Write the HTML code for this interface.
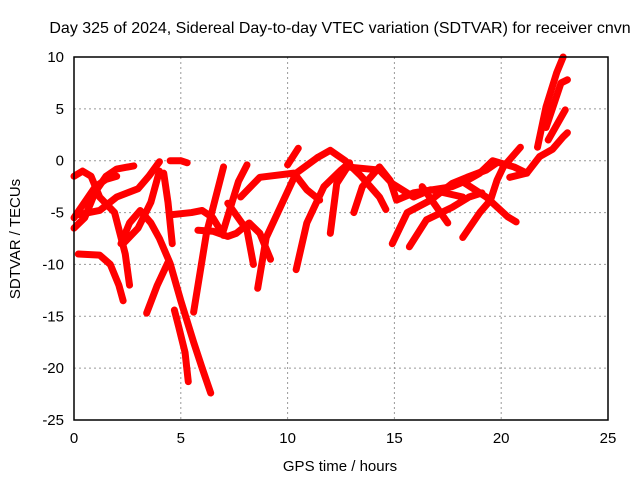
<!DOCTYPE html>
<html><head><meta charset="utf-8"><style>
body{margin:0;background:#fff}
svg{display:block;font-family:"Liberation Sans",sans-serif}
</style></head><body>
<svg id="chart" width="640" height="480" viewBox="0 0 640 480">
<rect width="640" height="480" fill="#fff"/>
<text x="340" y="33" font-size="16" text-anchor="middle">Day 325 of 2024, Sidereal Day-to-day VTEC variation (SDTVAR) for receiver cnvn</text>
<g id="grid"></g>
<g id="series"></g>
<rect x="74" y="57" width="534" height="363" fill="none" stroke="#000" stroke-width="1.5"/>
<g id="ticks"></g>
<text x="340" y="471" font-size="15" text-anchor="middle">GPS time / hours</text>
<text x="20" y="239" font-size="15" text-anchor="middle" transform="rotate(-90 20 239)">SDTVAR / TECUs</text>
</svg>
<script>
const xTicks=[0,5,10,15,20,25];
const yTicks=[10,5,0,-5,-10,-15,-20,-25];
const tracks=[
[[0,-1.5],[0.4,-1.0],[0.8,-1.5],[1.2,-3.5],[1.9,-5.0],[2.4,-9],[2.6,-12]],
[[0,-6.5],[0.5,-5.5],[1.0,-3],[1.5,-1.5],[2.0,-0.8],[2.8,-0.5]],
[[0,-5.5],[0.5,-4],[1,-2.5],[1.5,-1.8],[2,-1.5]],
[[0.2,-9],[1.2,-9.1],[1.7,-10],[2.1,-12],[2.3,-13.5]],
[[0.2,-5.2],[1.2,-4.8],[2,-3.5],[3,-2.7],[3.5,-1.5],[4.0,-0.1]],
[[2.2,-8],[2.6,-6],[3.1,-4.8],[3.6,-6],[4.0,-7.5],[4.5,-9.9],[5.0,-13.5],[5.6,-17.5],[6.0,-20],[6.4,-22.4]],
[[3.4,-14.7],[3.9,-12],[4.4,-9.8]],
[[2.3,-8],[3.0,-6.5],[3.6,-4],[4.0,-1]],
[[4.7,-14.4],[4.9,-16],[5.2,-18.5],[5.35,-21.3]],
[[4.6,-8],[4.4,-4],[4.2,-1.2]],
[[4.6,-5.2],[5.5,-5],[6.0,-4.8],[6.5,-5.5],[7,-7.2]],
[[4.5,0],[5,0],[5.3,-0.2]],
[[5.6,-14.6],[6.2,-7],[7,-0.6]],
[[5.8,-6.7],[6.5,-6.8],[7.2,-7.3],[7.6,-7],[8.2,-6],[8.7,-7],[9.2,-9.5]],
[[7.0,-6.7],[7.4,-4],[7.7,-2],[8.1,-0.4]],
[[8.6,-12.3],[9.0,-7.4],[10.4,-1.2],[11.4,0.3]],
[[7.8,-3.5],[8.7,-1.6],[10.3,-1.2],[10.9,-2.8],[11.5,-3.8]],
[[7.2,-4.1],[8.1,-6.7],[8.4,-10]],
[[10.0,-0.4],[10.5,1.2]],
[[10.4,-10.5],[10.9,-6],[11.7,-2.5],[12.5,-0.9],[12.9,-0.2]],
[[11.4,0.3],[12,1],[12.7,0],[13.4,-1.4],[14.3,-3.5],[14.6,-4.7]],
[[13.1,-5],[13.5,-2.5],[14.3,-0.6],[14.8,-1.9],[15.1,-3.8],[15.9,-3.1],[16.8,-2.8],[17.7,-2.5],[18.4,-1.9],[19.0,-1.2],[19.6,0],[20.6,-0.6],[21.2,-1.2]],
[[12.0,-7],[12.3,-2.2],[12.8,-0.6],[14.3,-0.9],[14.9,-2.2],[15.9,-3.5],[16.7,-2.8],[18.2,-3.5]],
[[14.9,-8],[15.6,-5],[16.7,-3.8],[17.7,-2.2],[18.4,-1.6],[19.3,-0.9],[19.8,-0.2]],
[[15.7,-8.3],[16.5,-5.7],[17.7,-4.5],[18.5,-3.5],[19.1,-3.1]],
[[16.3,-2.5],[17.5,-6]],
[[18.2,-7.4],[19.0,-5],[19.5,-3.8],[19.8,-1.9],[20.1,-0.6],[20.9,1.3]],
[[18.1,-1.9],[19.3,-3.5],[20.3,-5.4],[20.7,-5.9]],
[[20.4,-1.6],[21.2,-1.2],[21.8,0.4],[22.4,1.1],[22.9,2.3],[23.1,2.7]],
[[21.7,1.3],[22.1,5.2],[22.6,8.5],[22.9,10]],
[[22.1,3.2],[22.8,7.5],[23.1,7.8]],
[[22.2,2],[23.0,4.9]]
];
const X0=74,X1=608,Y0=420,Y1=57;
const sx=h=>X0+(h-0)/(25-0)*(X1-X0);
const sy=v=>Y0-(v+25)/(10+25)*(Y0-Y1);
const NS="http://www.w3.org/2000/svg";
const grid=document.getElementById('grid'),ticks=document.getElementById('ticks'),ser=document.getElementById('series');
function mk(tag,attrs,parent){const e=document.createElementNS(NS,tag);for(const k in attrs)e.setAttribute(k,attrs[k]);parent.appendChild(e);return e;}
xTicks.forEach(t=>{
  const x=sx(t);
  if(t>0&&t<25){const g=mk('line',{x1:x,x2:x,y1:Y1,y2:Y0,stroke:'#999','stroke-dasharray':'2,3'},grid);
  
  }
  const l=mk('text',{x:x,y:443,'font-size':15,'text-anchor':'middle'},ticks);l.textContent=t;
  
  
});
yTicks.forEach(t=>{
  const y=sy(t);
  if(t<10&&t>-25){const g=mk('line',{x1:X0,x2:X1,y1:y,y2:y,stroke:'#999','stroke-dasharray':'2,3'},grid);
  
  }
  const l=mk('text',{x:64,y:y+5,'font-size':15,'text-anchor':'end'},ticks);l.textContent=t;
  
  
});
tracks.forEach(tr=>{
  const p=mk('polyline',{points:tr.map(d=>sx(d[0])+','+sy(d[1])).join(' '),fill:'none',stroke:'#f00','stroke-width':7,'stroke-linejoin':'round','stroke-linecap':'round'},ser);
  
  
});
</script>
</body></html>
